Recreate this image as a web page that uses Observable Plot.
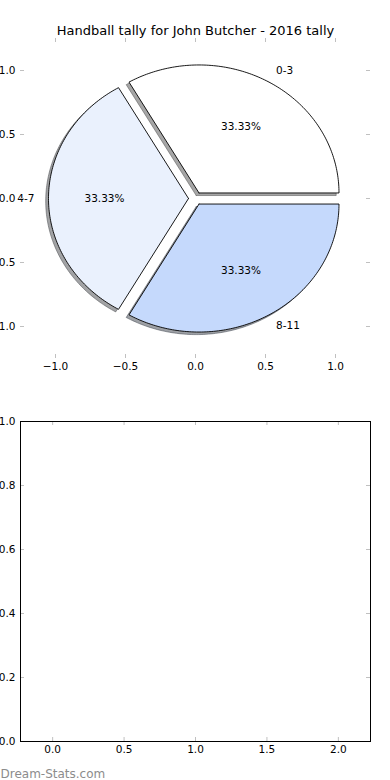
<!DOCTYPE html>
<html><head><meta charset="utf-8">
<script src="https://cdn.jsdelivr.net/npm/d3@7"></script>
<script src="https://cdn.jsdelivr.net/npm/@observablehq/plot@0.6"></script>
<style>
body{margin:0;background:#fff;}
#chart{width:390px;height:780px;position:relative;overflow:hidden;background:#fff;}
#chart svg{display:block;}
</style>
</head><body><div id="chart"></div>
<script>
const title = "Handball tally for John Butcher - 2016 tally";
const categories = ["0-3", "4-7", "8-11"];
const values = [1, 1, 1];
const sliceColors = ["#ffffff", "#eaf1fd", "#c5d9fc"];
const pieXTicks = [-1, -0.5, 0, 0.5, 1];
const pieYTicks = [-1, -0.5, 0, 0.5, 1];
const emptyXTicks = [0, 0.5, 1, 1.5, 2];
const emptyYTicks = [0, 0.2, 0.4, 0.6, 0.8, 1];
const footer = "Dream-Stats.com";

const explode = 0.05, shadowOff = 0.02;
const total = d3.sum(values);
const rad = Math.PI / 180;
let cum = 0;
const slices = values.map((v, i) => {
  const a0 = cum / total * 360; cum += v; const a1 = cum / total * 360;
  const am = (a0 + a1) / 2 * rad;
  const ox = explode * Math.cos(am), oy = explode * Math.sin(am);
  const pts = [[ox, oy]];
  const n = Math.max(4, Math.ceil(a1 - a0));
  for (let k = 0; k <= n; k++) {
    const t = (a0 + (a1 - a0) * k / n) * rad;
    pts.push([ox + Math.cos(t), oy + Math.sin(t)]);
  }
  pts.push([ox, oy]);
  return {label: categories[i], value: v, pct: v / total * 100, pts, ox, oy, am, color: sliceColors[i]};
});
const shade = c => { const r = d3.rgb(c); return d3.rgb(r.r * 0.3, r.g * 0.3, r.b * 0.3).formatHex(); };

const font = {fontFamily: "'DejaVu Sans', sans-serif", fontSize: "10.5px", background: "transparent"};
const tickGrey = "#c0c0c0";
const fmt1 = d3.format(".1f");

// Top: pie
const W = 390, H1 = 400, mL1 = 20, mR1 = 20, mT1 = 38, mB1 = 42;
const pw1 = W - mL1 - mR1, ph1 = H1 - mT1 - mB1;
const pie = Plot.plot({
  width: W, height: H1,
  marginLeft: mL1, marginRight: mR1, marginTop: mT1, marginBottom: mB1,
  style: font,
  x: {domain: [-1.25, 1.25]},
  y: {domain: [-1.25, 1.25]},
  marks: [
    ...slices.map(s => Plot.line(s.pts, {
      x: d => d[0] - shadowOff, y: d => d[1] - shadowOff,
      fill: shade(s.color), stroke: shade(s.color), fillOpacity: 0.5, strokeOpacity: 0.5,
      strokeWidth: 1, strokeLinejoin: "miter"
    })),
    ...slices.map(s => Plot.line(s.pts, {
      x: d => d[0], y: d => d[1],
      fill: s.color, stroke: "black", strokeWidth: 0.9,
      strokeLinejoin: "miter", strokeMiterlimit: 10
    })),
    Plot.text(slices, {
      x: s => s.ox + 0.6 * Math.cos(s.am), y: s => s.oy + 0.6 * Math.sin(s.am),
      text: s => d3.format(".2f")(s.pct) + "%", fill: "black", fontSize: 10.5
    }),
    Plot.text(slices.filter(s => s.ox + 1.1 * Math.cos(s.am) > 0), {
      x: s => s.ox + 1.1 * Math.cos(s.am), y: s => s.oy + 1.1 * Math.sin(s.am),
      text: "label", textAnchor: "start", fill: "black", fontSize: 10.5
    }),
    Plot.text(slices.filter(s => s.ox + 1.1 * Math.cos(s.am) <= 0), {
      x: s => s.ox + 1.1 * Math.cos(s.am), y: s => s.oy + 1.1 * Math.sin(s.am),
      text: "label", textAnchor: "end", fill: "black", fontSize: 10.5
    }),
    Plot.tickX(pieXTicks, {x: d => d, stroke: tickGrey, insetBottom: ph1 - 4}),
    Plot.tickX(pieXTicks, {x: d => d, stroke: tickGrey, insetTop: ph1 - 4}),
    Plot.tickY(pieYTicks, {y: d => d, stroke: tickGrey, insetRight: pw1 - 4}),
    Plot.tickY(pieYTicks, {y: d => d, stroke: tickGrey, insetLeft: pw1 - 4}),
    Plot.axisX({ticks: pieXTicks, tickFormat: fmt1, anchor: "bottom", tickSize: 0, tickPadding: 4, label: null, fill: "black"}),
    Plot.axisY({ticks: pieYTicks, tickFormat: fmt1, anchor: "left", tickSize: 0, tickPadding: 5, label: null, fill: "black"}),
    Plot.text([title], {frameAnchor: "top", dy: -4, lineAnchor: "bottom", fontSize: 13, fill: "black"})
  ]
});

// Bottom: empty axes
const H2 = 380, mL2 = 20, mR2 = 20, mT2 = 21, mB2 = 39;
const pw2 = W - mL2 - mR2, ph2 = H2 - mT2 - mB2;
const empty = Plot.plot({
  width: W, height: H2,
  marginLeft: mL2, marginRight: mR2, marginTop: mT2, marginBottom: mB2,
  style: font,
  x: {domain: [-0.225, 2.225]},
  y: {domain: [0, 1]},
  marks: [
    Plot.tickX(emptyXTicks, {x: d => d, stroke: tickGrey, insetBottom: ph2 - 4}),
    Plot.tickX(emptyXTicks, {x: d => d, stroke: tickGrey, insetTop: ph2 - 4}),
    Plot.tickY(emptyYTicks, {y: d => d, stroke: tickGrey, insetRight: pw2 - 4}),
    Plot.tickY(emptyYTicks, {y: d => d, stroke: tickGrey, insetLeft: pw2 - 4}),
    Plot.frame({stroke: "black", strokeWidth: 1}),
    Plot.axisX({ticks: emptyXTicks, tickFormat: fmt1, anchor: "bottom", tickSize: 0, tickPadding: 4, label: null, fill: "black"}),
    Plot.axisY({ticks: emptyYTicks, tickFormat: fmt1, anchor: "left", tickSize: 0, tickPadding: 5, label: null, fill: "black"}),
    Plot.text([footer], {frameAnchor: "bottom-left", dx: -mL2, dy: 36, textAnchor: "start", lineAnchor: "bottom", fontSize: 12, fill: "#8c8c8c"})
  ]
});

const root = document.getElementById("chart");
root.appendChild(pie);
root.appendChild(empty);
</script>
</body></html>
